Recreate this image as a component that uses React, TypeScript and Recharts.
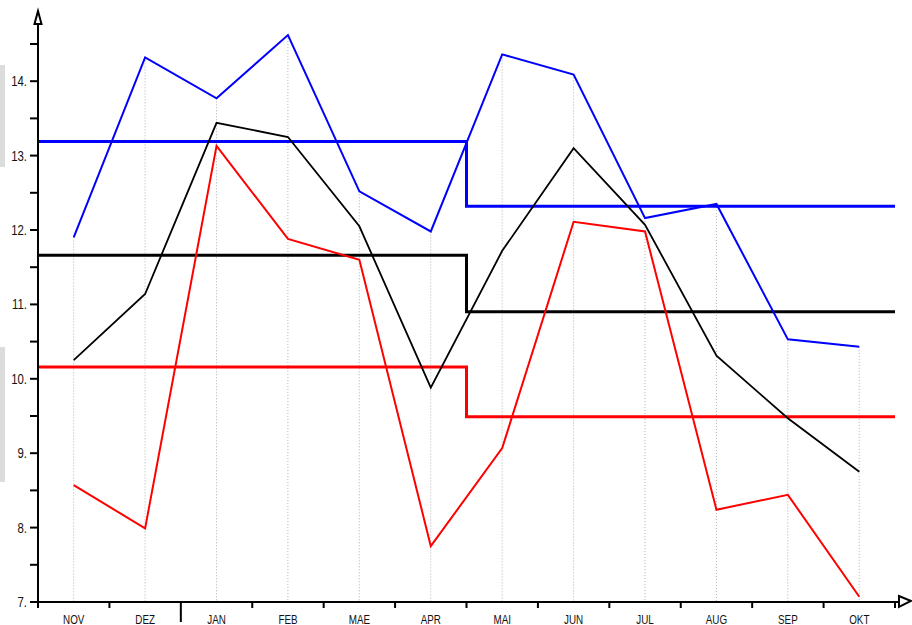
import {
  ComposedChart,
  Line,
  Bar,
  XAxis,
  YAxis,
} from "recharts";

const months = ["NOV", "DEZ", "JAN", "FEB", "MAE", "APR", "MAI", "JUN", "JUL", "AUG", "SEP", "OKT"];
const blueVals = [11.9, 14.32, 13.77, 14.62, 12.52, 11.98, 14.36, 14.09, 12.16, 12.35, 10.53, 10.43];
const blackVals = [10.25, 11.14, 13.44, 13.25, 12.05, 9.88, 11.72, 13.1, 12.07, 10.31, 9.47, 8.75];
const redVals = [8.57, 7.99, 13.13, 11.88, 11.6, 7.75, 9.07, 12.11, 11.98, 8.24, 8.44, 7.07];

// half-year averages (Nov-Apr, Mai-Okt)
const blueAvg = [13.19, 12.32];
const blackAvg = [11.66, 10.9];
const redAvg = [10.16, 9.49];

const yTicks = [7, 7.5, 8, 8.5, 9, 9.5, 10, 10.5, 11, 11.5, 12, 12.5, 13, 13.5, 14, 14.5];
const yearTickIndex = 2;

const W = 912;
const H = 625;
const LEFT = 38;
const RIGHT = 17;
const STEP = (W - LEFT - RIGHT) / months.length;
const FONT = "'Liberation Sans', Arial, sans-serif";

const data = months.map((m, i) => ({
  name: m,
  blue: blueVals[i],
  black: blackVals[i],
  red: redVals[i],
  top: Math.max(blueVals[i], blackVals[i], redVals[i]),
}));

const half = months.length / 2;
const avgData = [0, half, months.length].map((x, k) => {
  const h = k === 0 ? 0 : 1;
  return { x, blue: blueAvg[h], black: blackAvg[h], red: redAvg[h] };
});

const DropLine = (props: any) => {
  const { x, y, width, height } = props;
  const cx = x + width / 2;
  return (
    <line x1={cx} x2={cx} y1={y} y2={y + height} stroke="#b0b0b0" strokeWidth={1} strokeDasharray="1 2" />
  );
};

const MonthTick = (props: any) => {
  const { x, y, payload, index } = props;
  const left = x - STEP / 2;
  const len = index === yearTickIndex ? 20 : 6;
  return (
    <g>
      <line x1={left} x2={left} y1={y} y2={y + len} stroke="#000" strokeWidth={2} />
      {index === months.length - 1 && (
        <line x1={x + STEP / 2} x2={x + STEP / 2} y1={y} y2={y + 6} stroke="#000" strokeWidth={2} />
      )}
      <text
        transform={`translate(${x},${y + 22}) scale(0.82,1)`}
        textAnchor="middle"
        fontSize={12}
        fill="#111"
        fontFamily={FONT}
      >
        {payload.value}
      </text>
    </g>
  );
};

const ValueTick = (props: any) => {
  const { x, y, payload } = props;
  if (!Number.isInteger(payload.value)) return null;
  return (
    <text
      transform={`translate(${x},${y}) scale(0.76,1)`}
      textAnchor="end"
      dominantBaseline="central"
      fontSize={15}
      fill="#111"
      fontFamily={FONT}
    >
      {`${payload.value}.`}
    </text>
  );
};

export default function App() {
  return (
    <div style={{ position: "fixed", left: 0, top: 0, width: W, height: H, overflow: "hidden", background: "#fff" }}>
      <div style={{ position: "absolute", left: 0, top: 65, width: 5, height: 102, background: "#dcdcdc" }} />
      <div style={{ position: "absolute", left: 0, top: 347, width: 5, height: 135, background: "#dcdcdc" }} />
      <ComposedChart
        width={W}
        height={H}
        data={data}
        margin={{ top: 12, right: RIGHT, left: 0, bottom: 0 }}
        style={{ position: "absolute", left: 0, top: 0 }}
      >
        <XAxis
          dataKey="name"
          scale="band"
          height={23}
          tickSize={0}
          tickMargin={0}
          tick={<MonthTick />}
          tickLine={false}
          axisLine={{ stroke: "#000", strokeWidth: 2 }}
          interval={0}
        />
        <XAxis xAxisId="num" type="number" dataKey="x" domain={[0, months.length]} allowDataOverflow hide />
        <YAxis
          width={LEFT}
          domain={[7, 14.93]}
          allowDataOverflow
          ticks={yTicks}
          interval={0}
          tickSize={8}
          tickMargin={3}
          tickLine={{ stroke: "#000", strokeWidth: 2 }}
          axisLine={{ stroke: "#000", strokeWidth: 2 }}
          tick={<ValueTick />}
        />
        <Bar dataKey="top" shape={<DropLine />} isAnimationActive={false} />
        <Line xAxisId="num" data={avgData} dataKey="blue" type="stepAfter" stroke="#0000ff" strokeWidth={3} dot={false} isAnimationActive={false} />
        <Line xAxisId="num" data={avgData} dataKey="black" type="stepAfter" stroke="#000" strokeWidth={3} dot={false} isAnimationActive={false} />
        <Line xAxisId="num" data={avgData} dataKey="red" type="stepAfter" stroke="#ff0000" strokeWidth={3} dot={false} isAnimationActive={false} />
        <Line dataKey="blue" type="linear" stroke="#0000ff" strokeWidth={2} dot={false} isAnimationActive={false} />
        <Line dataKey="black" type="linear" stroke="#000" strokeWidth={1.8} dot={false} isAnimationActive={false} />
        <Line dataKey="red" type="linear" stroke="#ff0000" strokeWidth={2} dot={false} isAnimationActive={false} />
      </ComposedChart>
      <svg width={W} height={H} style={{ position: "absolute", left: 0, top: 0, pointerEvents: "none" }}>
        <line x1={W - RIGHT} x2={900} y1={602} y2={602} stroke="#000" strokeWidth={2} />
        <polygon points="38,11 34.5,24 41.5,24" fill="#fff" stroke="#000" strokeWidth={2} strokeLinejoin="miter" />
        <polygon points="911,601 899,596 899,607" fill="#fff" stroke="#000" strokeWidth={2} />
      </svg>
    </div>
  );
}
